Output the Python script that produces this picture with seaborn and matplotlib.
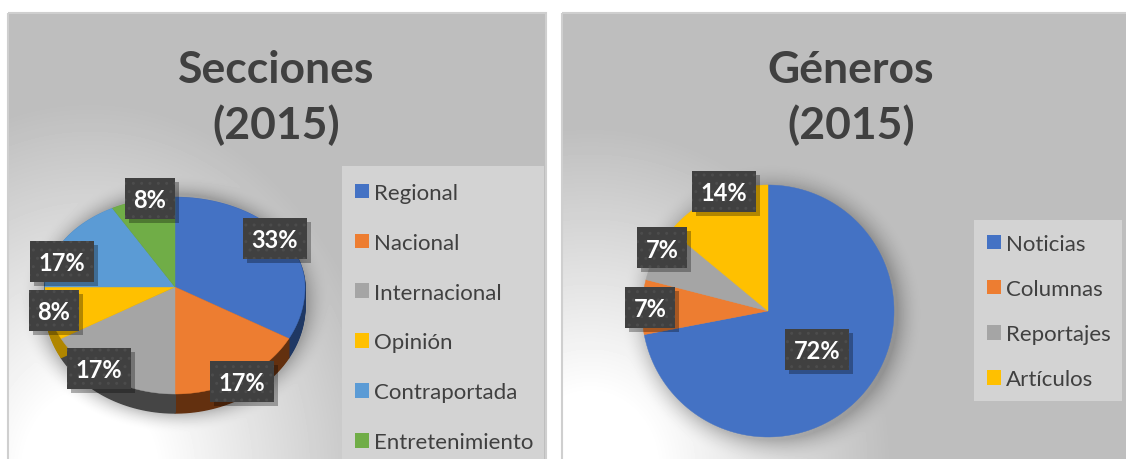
import numpy as np
import matplotlib
matplotlib.use('Agg')
import matplotlib.pyplot as plt
import seaborn as sns
from matplotlib.patches import Polygon, Rectangle, Patch
from matplotlib.transforms import Affine2D

# datos de las dos graficas
secciones = ['Regional', 'Nacional', 'Internacional', 'Opinión', 'Contraportada', 'Entretenimiento']
secciones_pct = [33, 17, 17, 8, 17, 8]
secciones_col = ['#4472c4', '#ed7d31', '#a5a5a5', '#ffc000', '#5b9bd5', '#70ad47']
secciones_lado = ['#1f3864', '#63300f', '#454545', '#b08600', '#2e5f8c', '#3c6325']

generos = ['Noticias', 'Columnas', 'Reportajes', 'Artículos']
generos_pct = [72, 7, 7, 14]
generos_col = ['#4472c4', '#ed7d31', '#a5a5a5', '#ffc000']

# centros de las etiquetas en pixeles
secciones_pos = [(275, 239), (242, 382), (99, 369), (54, 311), (62, 262), (150, 199)]
generos_pos = [(817, 350), (650, 308), (662, 248), (724, 192)]

sns.set_theme(style='white')
plt.rcParams['font.family'] = ['Lato', 'DejaVu Sans']
plt.rcParams['hatch.linewidth'] = 1.0

W, H = 1126, 460
fig = plt.figure(figsize=(W / 100, H / 100), dpi=100)
ax = fig.add_axes([0, 0, 1, 1])


def fondo(x0, x1, gx, gy, sx, sy, sombra):
    # degradado gris con la sombra difusa del pastel
    xx, yy = np.meshgrid(np.arange(x0, x1) + 0.5, np.arange(14, H) + 0.5)
    d = np.sqrt(((xx - gx) / sx) ** 2 + ((yy - gy) / sy) ** 2)
    t = np.clip((d - 0.22) / 0.78, 0, 1)
    g = 1 - 0.255 * t
    cx, cy, rx, ry, ancho = sombra
    ds = (np.sqrt(((xx - cx) / rx) ** 2 + ((yy - cy) / ry) ** 2) - 1) * rx
    g = g * (1 - 0.22 * np.clip(1 - ds / ancho, 0, 1) ** 2)
    ax.imshow(g, extent=(x0, x1, H, 14), cmap='gray', vmin=0, vmax=1,
              aspect='auto', interpolation='bilinear', zorder=0)
    ax.add_patch(Rectangle((x0, 14), x1 - x0 - 1, H - 10, fill=False,
                           ec='#cfcfcf', lw=1.5, zorder=1))


def pastel(valores, colores, cx, cy, rx, ry_arr, ry_abj, prof=0, lados=None):
    wedges, _ = ax.pie(valores, colors=colores, startangle=90, counterclock=False)
    formas = []
    for w in wedges:
        # se escala antes de aplanar para que el arco quede suave
        tr = w.get_patch_transform() + Affine2D().scale(1000)
        verts = w.get_path().transformed(tr).to_polygons()[0] / 1000
        formas.append(verts)
        w.remove()
    for i, verts in enumerate(formas):
        x = cx + rx * verts[:, 0]
        y = cy - verts[:, 1] * np.where(verts[:, 1] > 0, ry_arr, ry_abj)
        for dz in range(prof, 0, -1):
            ax.add_patch(Polygon(np.c_[x, y + dz], fc=lados[i], ec=lados[i], lw=1, zorder=3))
        formas[i] = np.c_[x, y]
    # la cara superior va encima de todas las paredes
    for verts, c in zip(formas, colores):
        ax.add_patch(Polygon(verts, fc=c, ec=c, lw=0.3, zorder=4))


def etiquetas(valores, posiciones):
    for v, (x, y) in zip(valores, posiciones):
        w = 64 if v >= 10 else 50
        ax.add_patch(Rectangle((x - w / 2 + 4, y - 20.5 + 4), w, 41, fc='black', alpha=0.3, ec='none', zorder=5))
        ax.add_patch(Rectangle((x - w / 2, y - 20.5), w, 41, fc='#404040', ec='#4c4c4c', hatch='..', lw=0, zorder=6))
        ax.text(x, y, f'{v}%', color='white', fontsize=17, fontweight='bold',
                ha='center', va='center_baseline', zorder=7)


def leyenda(nombres, colores, x0, y0, x1, y1, espacio, dy):
    ax.add_patch(Rectangle((x0, y0), x1 - x0, y1 - y0, fc='#d3d3d3', ec='none', zorder=2))
    handles = [Patch(fc=c, ec='none') for c in colores]
    ley = ax.legend(handles, nombres, loc='center left', frameon=False,
                    bbox_to_anchor=(x0 + 13, (y0 + y1) / 2 + dy), bbox_transform=ax.transData,
                    fontsize=16, labelcolor='#404040', handlelength=0.64, handleheight=0.64,
                    handletextpad=0.2, labelspacing=espacio, borderpad=0, borderaxespad=0)
    ley.set_zorder(8)
    return ley


fondo(8, 547, 90, 475, 300, 370, (175, 305, 133, 110, 24))
fondo(562, W + 4, 590, 470, 300, 340, (772, 315, 126, 126, 26))

pastel(secciones_pct, secciones_col, 175, 288, 130, 90, 107, prof=19, lados=secciones_lado)
pastel(generos_pct, generos_col, 768, 312, 126, 126, 126)

ax.set_aspect('auto')
ax.set_xlim(0, W)
ax.set_ylim(H, 0)
ax.axis('off')

etiquetas(secciones_pct, secciones_pos)
etiquetas(generos_pct, generos_pos)

ley1 = leyenda(secciones, secciones_col, 342, 167, 544, H, 1.345, 5)
ax.add_artist(ley1)
leyenda(generos, generos_col, 974, 221, 1122, 402, 1.13, 1)

ax.text(276, 98, 'Secciones\n(2015)', color='#404040', fontsize=32, fontweight='bold',
        ha='center', va='center', linespacing=1.43, zorder=8)
ax.text(851, 98, 'Géneros\n(2015)', color='#404040', fontsize=32, fontweight='bold',
        ha='center', va='center', linespacing=1.43, zorder=8)

plt.savefig('out.png', dpi=100)
